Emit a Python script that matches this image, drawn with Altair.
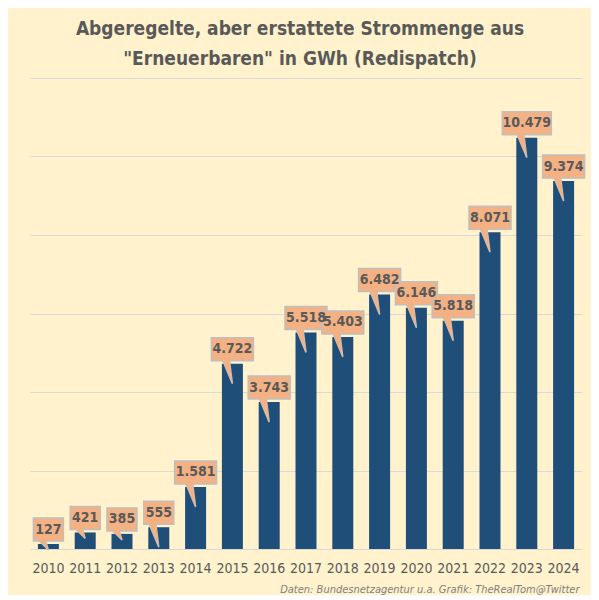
import altair as alt
import pandas as pd

years = [str(y) for y in range(2010, 2025)]
values = [127, 421, 385, 555, 1581, 4722, 3743, 5518, 5403, 6482, 6146, 5818, 8071, 10479, 9374]
title_lines = ['Abgeregelte, aber erstattete Strommenge aus', '"Erneuerbaren" in GWh (Redispatch)']
source = "Daten: Bundesnetzagentur u.a.  Grafik: TheRealTom@Twitter"
grid_values = [0, 2000, 4000, 6000, 8000, 10000, 12000]

df = pd.DataFrame({"year": years, "value": values})
df["label"] = [f"{v:,}".replace(",", ".") for v in values]
df["nchar"] = df["label"].str.len()

FONT = "'DejaVu Sans Condensed', Roboto, sans-serif"
TXT = "#595959"
BOX = "#F4B183"
EDGE = "#BFBFBF"
BAR = "#1F4E79"

x = alt.X(
    "year:N",
    sort=years,
    scale=alt.Scale(paddingInner=0, paddingOuter=0),
    axis=alt.Axis(
        title=source,
        labelAngle=0,
        labelFont=FONT,
        labelFontSize=14,
        labelColor=TXT,
        labelPadding=12,
        ticks=False,
        tickSize=0,
        domain=False,
        grid=False,
        titleFont=FONT,
        titleFontSize=11,
        titleFontStyle="italic",
        titleFontWeight="normal",
        titleColor="#7F7F7F",
        titleAlign="right",
        titleBaseline="middle",
        titleX=549,
        titleY=40,
    ),
)
y = alt.Y(
    "value:Q",
    scale=alt.Scale(domain=[0, 12000], nice=False),
    axis=alt.Axis(
        values=grid_values,
        labels=False,
        ticks=False,
        domain=False,
        grid=True,
        gridColor="#D9D9D9",
        gridWidth=1,
        title=None,
    ),
)

base = alt.Chart(df)

bars = base.mark_bar(width=21, color=BAR).encode(x=x, y=y)

long_ptr = "M -0.5,-0.2 L -0.15,-0.2 L 0,1 Z"
short_ptr = "M -0.5,-0.2 L -0.15,-0.2 L 0,0.3 Z"


def pointers(stroked):
    kw = dict(filled=True, fill=BOX, opacity=1, fillOpacity=1, size=1600)
    if stroked:
        kw.update(stroke=EDGE, strokeWidth=1.5)
    else:
        kw.update(strokeWidth=0)
    big = base.transform_filter("datum.value >= 500").mark_point(shape=long_ptr, **kw).encode(x=x, y=y)
    small = base.transform_filter("datum.value < 500").mark_point(shape=short_ptr, **kw).encode(x=x, y=y)
    return [big, small]


def boxes():
    out = []
    for n, w in [(3, 30), (5, 42), (6, 49)]:
        out.append(
            base.transform_filter(f"datum.nchar == {n}")
            .mark_bar(width=w, yOffset=-3, y2Offset=-26, fill=BOX, stroke=EDGE, strokeWidth=1.5)
            .encode(x=x, y=y, y2=alt.Y2("value:Q"))
        )
    return out


labels = base.mark_text(
    dy=-14.5, fontSize=14, fontWeight="bold", font=FONT, color=TXT, baseline="middle"
).encode(x=x, y=y, text="label:N")

layers = [bars] + pointers(True) + boxes() + pointers(False) + [labels]

chart = (
    alt.layer(*layers)
    .properties(
        width=552,
        height=471,
        title=alt.TitleParams(
            text=title_lines,
            fontSize=19,
            font=FONT,
            fontWeight="bold",
            color=TXT,
            anchor="middle",
            offset=9,
            lineHeight=30,
            dx=-6,
        ),
        padding={"left": 22, "top": 70, "right": 9, "bottom": 46},
        autosize=alt.AutoSizeParams(type="none"),
        background="#FFF2CC",
    )
    .configure_view(stroke=None)
)

chart.save("out.html", embed_options={"renderer": "svg", "actions": False})
